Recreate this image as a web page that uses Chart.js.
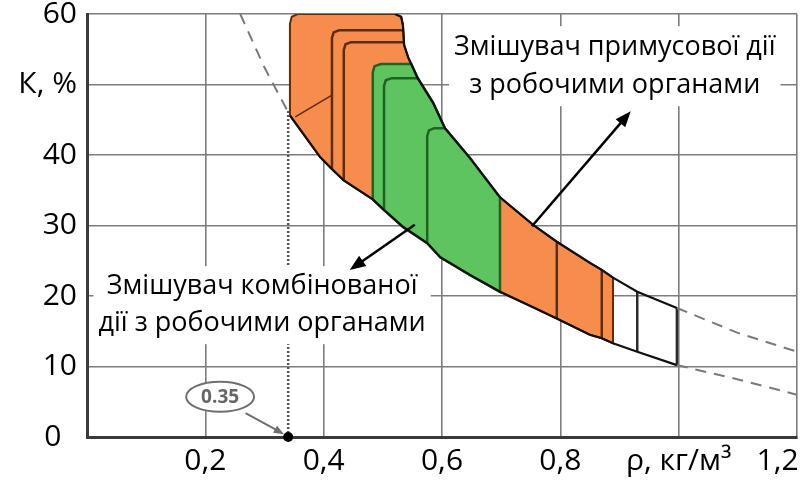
<!DOCTYPE html>
<html>
<head>
<meta charset="utf-8">
<script src="https://cdn.jsdelivr.net/npm/chart.js@4.4.1/dist/chart.umd.min.js"></script>
<style>
  html, body { margin: 0; padding: 0; background: #fff; }
  #wrap { width: 803px; height: 482px; }
</style>
</head>
<body>
<div id="wrap"><canvas id="chart"></canvas></div>
<script>
// tick labels (ρ on x, K on y)
const xTickLabels = ["", "0,2", "0,4", "0,6", "0,8", "ρ, кг/м³", "1,2     "];
const yTickLabels = ["0  ", "10", "20", "30", "40", "К, %", "60"];

// lower boundary of the zone (solid part)
const lowerX = [0.343, 0.394, 0.414, 0.434, 0.483, 0.502, 0.534, 0.575, 0.597, 0.647, 0.698, 0.754, 0.794, 0.850, 0.870, 0.889, 0.930, 0.997];
const lowerY = [45.6, 39.7, 38.0, 36.4, 33.7, 32.2, 29.8, 27.5, 25.5, 23.0, 20.6, 18.4, 16.8, 14.5, 14.0, 13.3, 12.1, 10.2];

// upper boundary of the zone (solid part)
const upperX = [0.521, 0.531, 0.534, 0.536, 0.543, 0.548, 0.559, 0.585, 0.605, 0.647, 0.698, 0.754, 0.794, 0.850, 0.870, 0.889, 0.930, 0.997];
const upperY = [60.0, 59.6, 58.4, 55.6, 53.8, 52.9, 50.9, 47.4, 43.8, 39.6, 34.0, 30.1, 27.7, 24.7, 23.7, 22.6, 20.6, 18.3];

// dashed continuations
const lowerDashLeftX = [0.259, 0.300, 0.343];
const lowerDashLeftY = [60.0, 52.4, 45.6];
const lowerDashRightX = [0.997, 1.099, 1.2];
const lowerDashRightY = [10.2, 8.2, 6.0];
const upperDashRightX = [0.997, 1.099, 1.2];
const upperDashRightY = [18.3, 14.8, 12.1];

// orange zone: left edge with rounded corner, right limit
const orangeLeftX = [0.343, 0.343, 0.346, 0.356];
const orangeLeftY = [45.6, 58.6, 59.6, 60.0];
const orangeRight = 0.889;
const orangeInner1X = [0.414, 0.414, 0.417, 0.426, 0.535];
const orangeInner1Y = [38.0, 56.6, 57.4, 57.7, 57.7];
const orangeInner2X = [0.434, 0.434, 0.437, 0.446, 0.536];
const orangeInner2Y = [36.4, 54.9, 55.7, 56.0, 56.0];
const orangeSlashX = [0.352, 0.414];
const orangeSlashY = [45.4, 48.5];

// green zone
const greenLeftX = [0.483, 0.483, 0.486, 0.497];
const greenLeftY = [33.7, 51.7, 52.6, 52.9];
const greenTopJoin = 0.548;
const greenRight = 0.698;
const greenInner1X = [0.502, 0.502, 0.505, 0.515, 0.559];
const greenInner1Y = [32.2, 49.8, 50.6, 50.9, 50.9];
const greenInner2X = [0.575, 0.575, 0.578, 0.587, 0.605];
const greenInner2Y = [27.5, 42.7, 43.5, 43.8, 43.8];

// vertical dividers between the curves
const brownDividers = [0.794, 0.870];
const greyDividers = [0.930, 0.997];

// marked density 0.35
const markX = 0.34;
const markTop = 46.3;

const pts = (xs, ys) => xs.map((x, i) => ({ x: x, y: ys[i] }));

const orangeShape = pts(orangeLeftX, orangeLeftY)
  .concat(pts(upperX, upperY).filter(p => p.x <= orangeRight))
  .concat(pts(lowerX, lowerY).filter(p => p.x <= orangeRight).reverse());

const greenShape = pts(greenLeftX, greenLeftY)
  .concat(pts(upperX, upperY).filter(p => p.x >= greenTopJoin && p.x <= greenRight))
  .concat(pts(lowerX, lowerY).filter(p => p.x >= greenLeftX[0] && p.x <= greenRight).reverse());

function divider(x) {
  return [{ x: x, y: lowerY[lowerX.indexOf(x)] }, { x: x, y: upperY[upperX.indexOf(x)] }];
}

function lineSet(data, color, width, extra) {
  return Object.assign({
    data: data, showLine: true, borderColor: color, borderWidth: width,
    pointRadius: 0, fill: false, order: 5
  }, extra || {});
}

const BROWN = "#5e2c0e";
const DKGREEN = "#1d6423";

const datasets = [
  lineSet(orangeShape, BROWN, 2, { fill: "shape", backgroundColor: "#F68D4D", order: 10 }),
  lineSet(greenShape, DKGREEN, 2.5, { fill: "shape", backgroundColor: "#5EC460", order: 9 }),
  lineSet(pts(orangeInner1X, orangeInner1Y), BROWN, 2.5),
  lineSet(pts(orangeInner2X, orangeInner2Y), BROWN, 2.5),
  lineSet(pts(orangeSlashX, orangeSlashY), BROWN, 1.5),
  lineSet(pts(greenInner1X, greenInner1Y), DKGREEN, 2.5),
  lineSet(pts(greenInner2X, greenInner2Y), DKGREEN, 2.5),
  ...brownDividers.map(x => lineSet(divider(x), BROWN, 2.5)),
  ...greyDividers.map(x => lineSet(divider(x), "#2b2b2b", 2.5)),
  lineSet(pts(lowerX, lowerY), "#111", 2.2, { order: 3 }),
  lineSet(pts(upperX, upperY), "#111", 2.2, { order: 3 }),
  lineSet(pts(lowerDashLeftX, lowerDashLeftY), "#7a7a7a", 2, { borderDash: [11, 8], order: 4 }),
  lineSet(pts(lowerDashRightX, lowerDashRightY), "#7a7a7a", 2, { borderDash: [11, 8], order: 4 }),
  lineSet(pts(upperDashRightX, upperDashRightY), "#7a7a7a", 2, { borderDash: [11, 8], order: 4 }),
  lineSet([{ x: markX, y: 0 }, { x: markX, y: markTop }], "#555", 2.5, { borderDash: [2, 2], order: 4 }),
  { data: [{ x: markX, y: 0 }], showLine: false, pointRadius: 5, pointBackgroundColor: "#000",
    pointBorderWidth: 0, clip: false, order: 1 }
];

function arrow(ctx, x1, y1, x2, y2, color, w, head) {
  const a = Math.atan2(y2 - y1, x2 - x1);
  ctx.strokeStyle = color;
  ctx.fillStyle = color;
  ctx.lineWidth = w;
  ctx.beginPath();
  ctx.moveTo(x1, y1);
  ctx.lineTo(x2 - Math.cos(a) * head * 0.8, y2 - Math.sin(a) * head * 0.8);
  ctx.stroke();
  ctx.beginPath();
  ctx.moveTo(x2, y2);
  ctx.lineTo(x2 - head * Math.cos(a - 0.38), y2 - head * Math.sin(a - 0.38));
  ctx.lineTo(x2 - head * Math.cos(a + 0.38), y2 - head * Math.sin(a + 0.38));
  ctx.closePath();
  ctx.fill();
}

function note(ctx, lines, cx, cy, lh) {
  ctx.font = "27px 'Open Sans'";
  const w = Math.max(...lines.map(t => ctx.measureText(t).width)) + 10;
  const h = lines.length * lh + 4;
  ctx.fillStyle = "#fff";
  ctx.fillRect(cx - w / 2, cy - h / 2, w, h);
  ctx.fillStyle = "#000";
  ctx.textAlign = "center";
  ctx.textBaseline = "middle";
  lines.forEach((t, i) => ctx.fillText(t, cx, cy + (i - (lines.length - 1) / 2) * lh));
}

// labels, arrows and the 0.35 callout
const notesPlugin = {
  id: "notes",
  afterDraw(chart) {
    const ctx = chart.ctx;
    const px = v => chart.scales.x.getPixelForValue(v);
    const py = v => chart.scales.y.getPixelForValue(v);
    ctx.save();
    note(ctx, ["Змішувач примусової дії", "з робочими органами"], px(0.892), py(52.6), 38);
    note(ctx, ["Змішувач комбінованої", "дії з робочими органами"], px(0.296), py(18.7), 37);
    arrow(ctx, px(0.752), py(29.9), px(0.919), py(46.2), "#000", 2.5, 17);
    arrow(ctx, px(0.554), py(30.1), px(0.444), py(23.7), "#000", 2.5, 17);

    // 0.35 ellipse
    const ex = px(0.225), ey = py(5.7);
    ctx.beginPath();
    ctx.ellipse(ex, ey, 34, 15, 0, 0, Math.PI * 2);
    ctx.fillStyle = "#fff";
    ctx.fill();
    ctx.strokeStyle = "#6f6f6f";
    ctx.lineWidth = 2;
    ctx.stroke();
    ctx.fillStyle = "#666";
    ctx.font = "bold 19px 'Open Sans'";
    ctx.textAlign = "center";
    ctx.textBaseline = "middle";
    ctx.fillText("0.35", ex, ey + 1);
    arrow(ctx, px(0.268), py(3.4), px(0.333), py(0.4), "#6f6f6f", 2, 11);
    ctx.restore();
  }
};

Chart.defaults.font.family = "'Open Sans', sans-serif";

new Chart(document.getElementById("chart"), {
  type: "scatter",
  data: { datasets: datasets },
  options: {
    responsive: true,
    maintainAspectRatio: false,
    animation: false,
    layout: { padding: { top: 14, right: 6, left: 0, bottom: 0 } },
    elements: { line: { tension: 0 } },
    plugins: { legend: { display: false }, tooltip: { enabled: false } },
    scales: {
      x: {
        type: "linear", min: 0, max: 1.2, z: 1,
        grid: { color: "#7d7d7d", lineWidth: 1.6, drawTicks: false },
        border: { color: "#3a3a3a", width: 3 },
        ticks: {
          stepSize: 0.2, padding: 6, color: "#000", autoSkip: false, maxRotation: 0,
          font: { size: 30 },
          callback: v => xTickLabels[Math.round(v / 0.2)]
        },
        afterFit: s => { s.height = 45; s.paddingLeft = 0; s.paddingRight = 0; }
      },
      y: {
        type: "linear", min: 0, max: 60, z: 1,
        grid: { color: "#7d7d7d", lineWidth: 1.6, drawTicks: false },
        border: { color: "#3a3a3a", width: 3 },
        ticks: {
          stepSize: 10, padding: 10, color: "#000",
          font: { size: 30 },
          callback: v => yTickLabels[Math.round(v / 10)]
        },
        afterFit: s => { s.width = 87; s.paddingTop = 0; s.paddingBottom = 0; }
      }
    }
  },
  plugins: [notesPlugin]
});
</script>
</body>
</html>
